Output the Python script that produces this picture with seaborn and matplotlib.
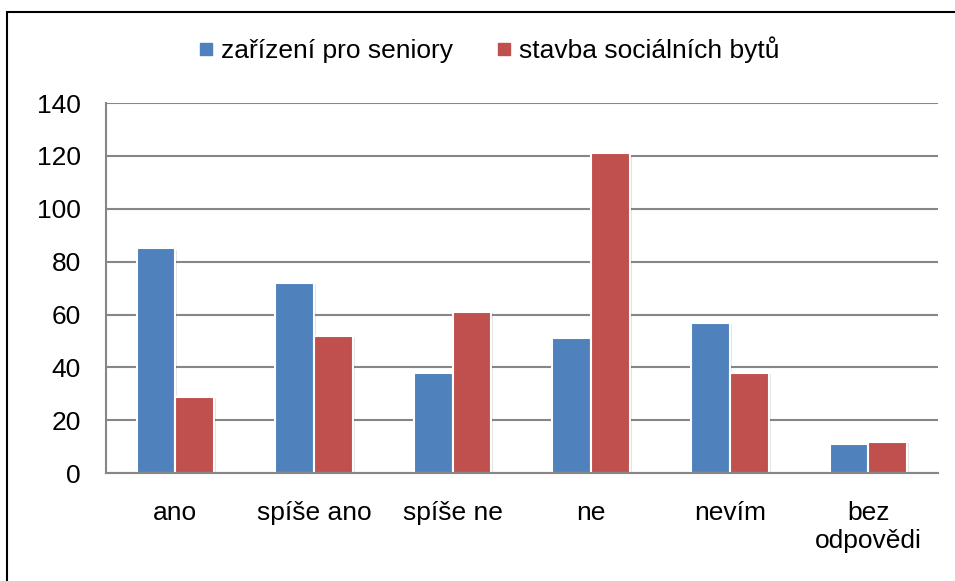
import matplotlib
matplotlib.use("Agg")
import matplotlib.pyplot as plt
import matplotlib.patheffects as pe
from matplotlib.lines import Line2D
import pandas as pd
import seaborn as sns

categories = ["ano", "spíše ano", "spíše ne", "ne", "nevím", "bez\nodpovědi"]
seniors = [85, 72, 38, 51, 57, 11]
social_flats = [29, 52, 61, 121, 38, 12]
series_names = ["zařízení pro seniory", "stavba sociálních bytů"]
colors = ["#4F81BD", "#C0504D"]
yticks = [0, 20, 40, 60, 80, 100, 120, 140]

df = pd.DataFrame({
    "kategorie": categories * 2,
    "hodnota": seniors + social_flats,
    "serie": [series_names[0]] * len(categories) + [series_names[1]] * len(categories),
})

sns.set_style("white")
plt.rcParams["font.family"] = ["Liberation Sans", "DejaVu Sans"]
plt.rcParams["text.color"] = "black"

fig = plt.figure(figsize=(9.55, 5.81), dpi=100)
ax = fig.add_axes([0.111, 0.1854, 0.871, 0.6373])

sns.barplot(data=df, x="kategorie", y="hodnota", hue="serie", order=categories,
            hue_order=series_names, palette=colors, saturation=1, width=0.56, ax=ax,
            edgecolor="white", linewidth=1.5, legend=False, errorbar=None)
for p in ax.patches:
    p.set_path_effects([pe.SimplePatchShadow(offset=(1.5, -1), alpha=0.12), pe.Normal()])

ax.set_ylim(0, 140)
ax.set_yticks(yticks)
ax.yaxis.grid(True, color="#868686", lw=1.5)
ax.set_axisbelow(True)
for s in ["top", "right"]:
    ax.spines[s].set_visible(False)
for s in ["left", "bottom"]:
    ax.spines[s].set_color("#868686")
    ax.spines[s].set_linewidth(1.5)
ax.tick_params(axis="y", length=0, pad=18, labelsize=19, labelcolor="black")
ax.tick_params(axis="x", length=0, pad=20, labelsize=19, labelcolor="black")
ax.set_xlabel(""); ax.set_ylabel("")

handles = [Line2D([], [], marker="s", ls="", color=c, markersize=8.5) for c in colors]
fig.legend(handles, series_names, loc="center", bbox_to_anchor=(0.509, 0.914), ncol=2,
           frameon=False, fontsize=19, handletextpad=0.1, columnspacing=1.4,
           handlelength=1.0, labelcolor="black")

# outer frame (left and top edges visible)
fig.add_artist(Line2D([0.0073, 0.0073], [0, 0.979], color="black", lw=1.5, transform=fig.transFigure))
fig.add_artist(Line2D([0.0073, 1], [0.979, 0.979], color="black", lw=1.5, transform=fig.transFigure))

fig.savefig("out.png", dpi=100)
